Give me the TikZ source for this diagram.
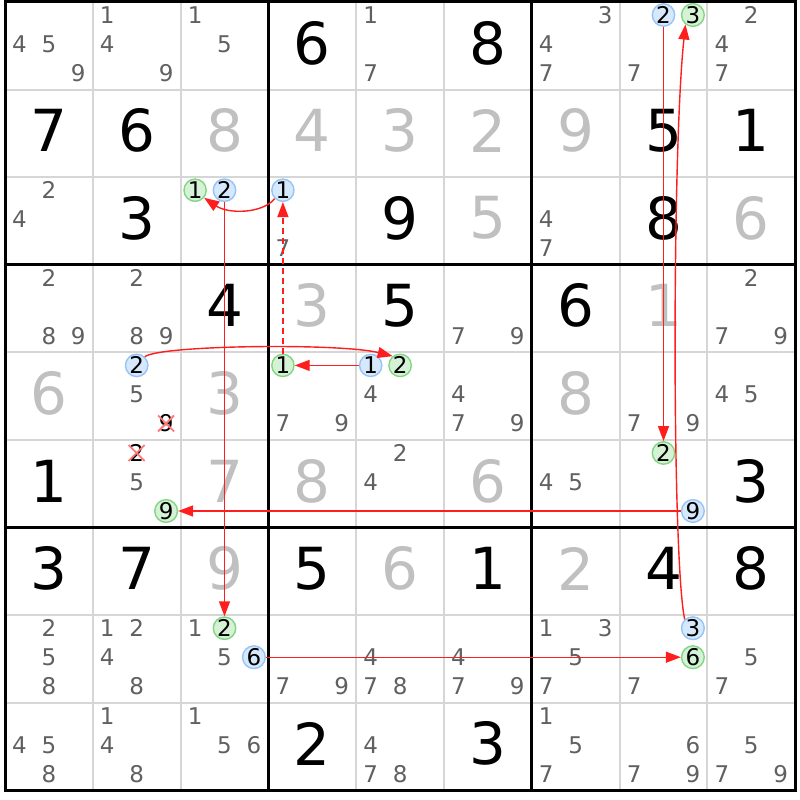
\documentclass[tikz,border=0pt]{standalone}
\usepackage{fontspec}
\setmainfont{DejaVu Sans}
\usetikzlibrary{arrows.meta}
\definecolor{thingrid}{RGB}{214,214,214}
\definecolor{solvedcol}{RGB}{192,192,192}
\definecolor{candcol}{RGB}{96,96,96}
\definecolor{bluefill}{RGB}{214,232,252}
\definecolor{blueline}{RGB}{150,196,246}
\definecolor{greenfill}{RGB}{214,242,214}
\definecolor{greenline}{RGB}{130,214,130}
\definecolor{xred}{RGB}{255,120,120}
\definecolor{linkred}{RGB}{255,30,30}
\newcommand\placecand[4]{%
  \pgfmathsetmacro\cx{5+(#2-1)*87.8+14.5+mod(#3-1,3)*29.4}%
  \pgfmathsetmacro\cy{2+(#1-1)*87.6+13+floor((#3-1)/3)*29}%
  \node[#4] (n#1#2#3) at (\cx,\cy) {#3};}
\begin{document}
\begin{tikzpicture}[x=1pt,y=-1pt,
  thinline/.style={draw=thingrid, line width=2pt},
  thickline/.style={draw=black, line width=3pt},
  givendig/.style={font=\fontsize{58}{60}\selectfont, text=black, inner sep=0pt},
  solveddig/.style={font=\fontsize{58}{60}\selectfont, text=solvedcol, inner sep=0pt},
  cand/.style={font=\fontsize{23}{24}\selectfont, text=candcol, inner sep=0pt},
  bluec/.style={cand, text=black, circle, draw=blueline, fill=bluefill, line width=1.4pt, minimum size=22pt},
  greenc/.style={cand, text=black, circle, draw=greenline, fill=greenfill, line width=1.4pt, minimum size=22pt},
  crossc/.style={cand, text=black},
  xmark/.style={draw=xred, line width=1.8pt},
  arr/.style={draw=linkred, line width=1.4pt, -{Triangle[length=15pt,width=11pt]}}
]
\useasboundingbox[fill=white] (0,0) rectangle (800,800);
% thin grid
\foreach \i in {1,2,4,5,7,8} {
  \draw[thinline] ({5+\i*87.8},2) -- ({5+\i*87.8},790.4);
  \draw[thinline] (5,{2+\i*87.6}) -- (795.2,{2+\i*87.6});
}
% thick grid
\foreach \i in {3,6} {
  \draw[thickline] ({5+\i*87.8},2) -- ({5+\i*87.8},790.4);
  \draw[thickline] (5,{2+\i*87.6}) -- (795.2,{2+\i*87.6});
}
\draw[thickline] (5,2) rectangle (795.2,790.4);
% given digits
\foreach \r/\c/\d in {1/4/6,1/6/8,2/1/7,2/2/6,2/8/5,2/9/1,3/2/3,3/5/9,3/8/8,
  4/3/4,4/5/5,4/7/6,6/1/1,6/9/3,7/1/3,7/2/7,7/4/5,7/6/1,7/8/4,7/9/8,9/4/2,9/6/3} {
  \node[givendig] (g\r\c) at ({5+(\c-1)*87.8+43.9},{2+(\r-1)*87.6+41}) {\d};
}
% solved digits
\foreach \r/\c/\d in {2/3/8,2/4/4,2/5/3,2/6/2,2/7/9,3/6/5,3/9/6,4/4/3,4/8/1,
  5/1/6,5/3/3,5/7/8,6/3/7,6/4/8,6/6/6,7/3/9,7/5/6,7/7/2} {
  \node[solveddig] (s\r\c) at ({5+(\c-1)*87.8+43.9},{2+(\r-1)*87.6+41}) {\d};
}
% plain candidates
\foreach \r/\c/\ks in {1/1/{4,5,9},1/2/{1,4,9},1/3/{1,5},1/5/{1,7},1/7/{3,4,7},1/8/{7},1/9/{2,4,7},
  3/1/{2,4},3/4/{7},3/7/{4,7},
  4/1/{2,8,9},4/2/{2,8,9},4/6/{7,9},4/9/{2,7,9},
  5/2/{5},5/4/{7,9},5/5/{4},5/6/{4,7,9},5/8/{7,9},5/9/{4,5},
  6/2/{5},6/5/{2,4},6/7/{4,5},
  8/1/{2,5,8},8/2/{1,2,4,8},8/3/{1,5},8/4/{7,9},8/5/{4,7,8},8/6/{4,7,9},8/7/{1,3,5,7},8/8/{7},8/9/{5,7},
  9/1/{4,5,8},9/2/{1,4,8},9/3/{1,5,6},9/5/{4,7,8},9/7/{1,5,7},9/8/{6,7,9},9/9/{5,7,9}} {
  \foreach \k in \ks {
    \placecand{\r}{\c}{\k}{cand}
  }
}
% highlighted candidates
\placecand{1}{8}{2}{bluec}
\placecand{1}{8}{3}{greenc}
\placecand{3}{3}{1}{greenc}
\placecand{3}{3}{2}{bluec}
\placecand{3}{4}{1}{bluec}
\placecand{5}{2}{2}{bluec}
\placecand{5}{4}{1}{greenc}
\placecand{5}{5}{1}{bluec}
\placecand{5}{5}{2}{greenc}
\placecand{6}{2}{9}{greenc}
\placecand{6}{8}{2}{greenc}
\placecand{6}{8}{9}{bluec}
\placecand{8}{3}{2}{greenc}
\placecand{8}{3}{6}{bluec}
\placecand{8}{8}{3}{bluec}
\placecand{8}{8}{6}{greenc}
\placecand{5}{2}{9}{crossc}
\placecand{6}{2}{2}{crossc}
% eliminations
\draw[xmark] ([shift={(-8,-8)}]n529.center) -- ([shift={(8,8)}]n529.center);
\draw[xmark] ([shift={(-8,8)}]n529.center) -- ([shift={(8,-8)}]n529.center);
\draw[xmark] ([shift={(-8,-8)}]n622.center) -- ([shift={(8,8)}]n622.center);
\draw[xmark] ([shift={(-8,8)}]n622.center) -- ([shift={(8,-8)}]n622.center);
% links
\draw[arr] (n332) -- (n832);
\draw[arr] (n689) -- (n629);
\draw[arr] (n182) -- (n682);
\draw[arr] (n836) -- (n886);
\draw[arr] (n551) -- (n541);
\draw[arr, dash pattern=on 6pt off 4pt] (n541) -- (n341);
\draw[arr] (n341.226) .. controls (262,214) and (228,214) .. (n331.-40);
\draw[arr] (n522.47) .. controls (160,345) and (340,343) .. (n552.129);
\draw[arr] (n883.133) .. controls (672,560) and (672,150) .. (n183.232);
\end{tikzpicture}
\end{document}
